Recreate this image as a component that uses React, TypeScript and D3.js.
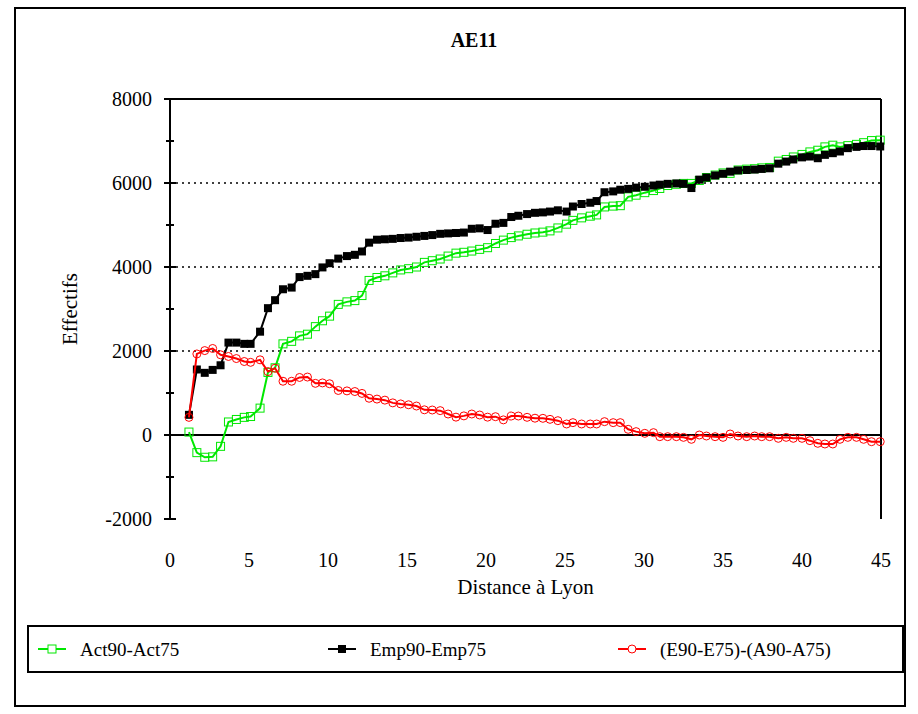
import React from 'react';
import * as d3 from 'd3';

// distance to Lyon for each commune step
const distances = [
  1.2, 1.7, 2.2, 2.7, 3.2, 3.7, 4.2, 4.7, 5.1, 5.7,
  6.2, 6.65, 7.15, 7.7, 8.2, 8.7, 9.2, 9.65, 10.1, 10.65,
  11.2, 11.7, 12.15, 12.6, 13.1, 13.6, 14.1, 14.6, 15.1, 15.6,
  16.1, 16.6, 17.1, 17.6, 18.1, 18.6, 19.1, 19.6, 20.1, 20.6,
  21.1, 21.6, 22.05, 22.6, 23.1, 23.6, 24.05, 24.55, 25.1, 25.5,
  26.05, 26.6, 27.0, 27.5, 28.05, 28.5, 29.0, 29.5, 30.05, 30.6,
  31.0, 31.5, 32.05, 32.5, 33.0, 33.5, 33.95, 34.5, 35.0, 35.45,
  35.95, 36.5, 37.0, 37.45, 37.95, 38.5, 39.0, 39.45, 40.0, 40.5,
  41.0, 41.45, 41.95, 42.4, 42.9, 43.45, 43.9, 44.4, 44.95
];

const act = [
  70, -420, -530, -520, -270, 310, 370, 420, 440, 640,
  1490, 1600, 2170, 2230, 2360, 2400, 2580, 2720, 2830, 3110,
  3170, 3200, 3320, 3680, 3750, 3790, 3860, 3930, 3960, 4000,
  4110, 4150, 4190, 4260, 4330, 4350, 4380, 4420, 4460, 4560,
  4640, 4700, 4740, 4780, 4810, 4830, 4860, 4930, 5020, 5110,
  5170, 5210, 5240, 5430, 5450, 5460, 5670, 5710, 5770, 5820,
  5870, 5940, 5970, 5990, 5990, 6060, 6130, 6190, 6240, 6230,
  6310, 6330, 6340, 6360, 6370, 6520, 6560, 6620, 6680, 6740,
  6780, 6860, 6900, 6860, 6890, 6920, 6960, 7010, 7020
];

const emp = [
  480, 1560, 1480, 1550, 1660, 2200, 2200, 2170, 2170, 2460,
  3020, 3210, 3470, 3510, 3760, 3790, 3830, 3990, 4090, 4200,
  4260, 4290, 4370, 4580, 4650, 4660, 4670, 4690, 4700, 4720,
  4740, 4760, 4790, 4800, 4810, 4820, 4910, 4920, 4880, 5030,
  5050, 5190, 5220, 5260, 5290, 5300, 5320, 5350, 5320, 5440,
  5500, 5530, 5570, 5780, 5800, 5840, 5860, 5890, 5910, 5940,
  5960, 5980, 5990, 5980, 5880, 6080, 6130, 6180, 6220, 6270,
  6300, 6310, 6320, 6335, 6350, 6460, 6510, 6560, 6610, 6630,
  6590, 6670, 6710, 6750, 6830, 6860, 6880, 6880, 6870
];

const diff = [
  420, 1930, 2010, 2060, 1910, 1870, 1820, 1750, 1730, 1790,
  1510, 1590, 1280, 1280, 1370, 1380, 1230, 1240, 1220, 1060,
  1050, 1035, 990, 875, 855, 830, 765, 740, 720, 690,
  600, 595, 580, 500, 425, 455, 500, 476, 425, 436,
  360, 452, 452, 421, 400, 397, 373, 341, 262, 294,
  262, 262, 262, 318, 294, 294, 135, 80, 40, 56,
  -40, -40, -40, -56, -103, 0, -24, -40, -56, 24,
  -24, -40, -24, -40, -40, -79, -56, -79, -79, -135,
  -198, -214, -214, -103, -56, -56, -103, -159, -159
];

const yTicks = [-2000, 0, 2000, 4000, 6000, 8000];
const yMinor = [-1000, 1000, 3000, 5000, 7000];
const xTicks = [0, 5, 10, 15, 20, 25, 30, 35, 40, 45];
const gridLines = [2000, 4000, 6000];

const GREEN = '#00e800';
const RED = '#ff0000';
const FONT = '"Liberation Serif", "Times New Roman", serif';

export default function App() {
  const left = 170, right = 881, top = 99, bottom = 519;
  const x = d3.scaleLinear().domain([0, 45]).range([left, right]);
  const y = d3.scaleLinear().domain([-2000, 8000]).range([bottom, top]);

  const pts = (vals: number[]) => distances.map((d, i) => [d, vals[i]] as [number, number]);
  const line = d3.line<[number, number]>().x(d => x(d[0])).y(d => y(d[1]));

  const actPts = pts(act);
  const empPts = pts(emp);
  const diffPts = pts(diff);

  return (
    <div>
      <style>{`body{margin:0}`}</style>
      <svg width={918} height={714} style={{ display: 'block', fontFamily: FONT }}>
        <rect x={0} y={0} width={918} height={714} fill="#fff" />
        {/* outer frame */}
        <rect x={15} y={8} width={890} height={698} fill="none" stroke="#000" strokeWidth={2} />

        <text x={474} y={47} textAnchor="middle" fontSize={20} fontWeight="bold">AE11</text>

        {/* grid */}
        {gridLines.map(v => (
          <line key={v} x1={left} x2={right} y1={y(v)} y2={y(v)} stroke="#000" strokeWidth={1.5} strokeDasharray="2,4" />
        ))}

        {/* zero line */}
        <line x1={left} x2={right} y1={y(0)} y2={y(0)} stroke="#000" strokeWidth={2} />

        {/* plot frame */}
        <line x1={left} x2={left} y1={top} y2={bottom} stroke="#000" strokeWidth={2} />
        <line x1={right} x2={right} y1={top} y2={bottom} stroke="#000" strokeWidth={2} />
        <line x1={left} x2={right} y1={top} y2={top} stroke="#000" strokeWidth={2} />

        {/* y ticks */}
        {yTicks.map(v => (
          <g key={v}>
            <line x1={left - 6} x2={left + 6} y1={y(v)} y2={y(v)} stroke="#000" strokeWidth={2} />
            <text x={152} y={y(v)} dy="0.35em" textAnchor="end" fontSize={20}>{v}</text>
          </g>
        ))}
        {yMinor.map(v => (
          <line key={v} x1={left - 4} x2={left + 4} y1={y(v)} y2={y(v)} stroke="#000" strokeWidth={2} />
        ))}

        {/* x tick labels */}
        {xTicks.map(v => (
          <text key={v} x={x(v)} y={567} textAnchor="middle" fontSize={20}>{v}</text>
        ))}

        <text x={(left + right) / 2} y={594} textAnchor="middle" fontSize={21}>Distance à Lyon</text>
        <text transform={`translate(77,${(top + bottom) / 2}) rotate(-90)`} textAnchor="middle" fontSize={21}>Effectifs</text>

        {/* series */}
        <path d={line(actPts) || ''} fill="none" stroke={GREEN} strokeWidth={2} />
        {actPts.map((p, i) => (
          <rect key={i} x={x(p[0]) - 4} y={y(p[1]) - 4} width={8} height={8} fill="none" stroke={GREEN} strokeWidth={1} />
        ))}

        <path d={line(empPts) || ''} fill="none" stroke="#000" strokeWidth={2} />
        {empPts.map((p, i) => (
          <rect key={i} x={x(p[0]) - 4} y={y(p[1]) - 4} width={8} height={8} fill="#000" />
        ))}

        <path d={line(diffPts) || ''} fill="none" stroke={RED} strokeWidth={2} />
        {diffPts.map((p, i) => (
          <circle key={i} cx={x(p[0])} cy={y(p[1])} r={4} fill="none" stroke={RED} strokeWidth={1} />
        ))}

        {/* legend */}
        <rect x={28} y={626} width={875} height={46} fill="#fff" stroke="#000" strokeWidth={2} />
        <g transform="translate(38,649)">
          <line x1={0} x2={28} y1={0} y2={0} stroke={GREEN} strokeWidth={2} />
          <rect x={10} y={-4} width={8} height={8} fill="#fff" stroke={GREEN} strokeWidth={1} />
          <text x={42} y={0} dy="0.35em" fontSize={19}>Act90-Act75</text>
        </g>
        <g transform="translate(328,649)">
          <line x1={0} x2={28} y1={0} y2={0} stroke="#000" strokeWidth={2} />
          <rect x={10} y={-4} width={8} height={8} fill="#000" />
          <text x={42} y={0} dy="0.35em" fontSize={19}>Emp90-Emp75</text>
        </g>
        <g transform="translate(618,649)">
          <line x1={0} x2={28} y1={0} y2={0} stroke={RED} strokeWidth={2} />
          <circle cx={14} cy={0} r={4} fill="#fff" stroke={RED} strokeWidth={1} />
          <text x={42} y={0} dy="0.35em" fontSize={19}>(E90-E75)-(A90-A75)</text>
        </g>
      </svg>
    </div>
  );
}
